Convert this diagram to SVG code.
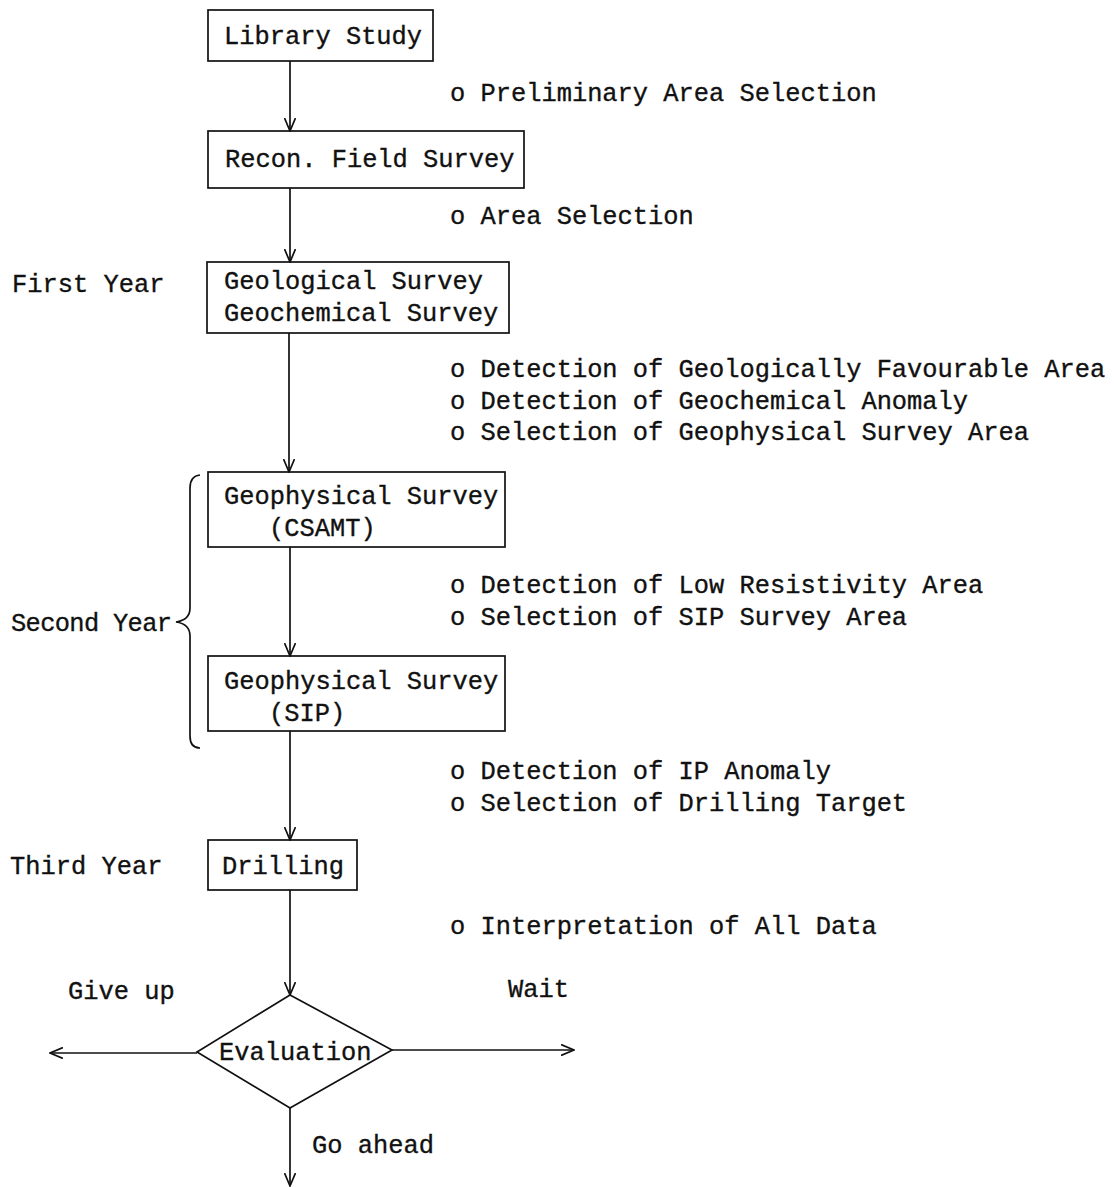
<svg xmlns="http://www.w3.org/2000/svg" width="1114" height="1187" viewBox="0 0 1114 1187">
<style>
text{font-family:"Liberation Mono","DejaVu Sans Mono",monospace;font-size:25.4px;fill:#111;stroke:#111;stroke-width:0.35;}
.box{fill:none;stroke:#111;stroke-width:1.7;}
.ln{fill:none;stroke:#111;stroke-width:1.7;}
</style>
<defs>
<marker id="ah" viewBox="0 0 14 12" refX="13" refY="6" markerWidth="14" markerHeight="12" markerUnits="userSpaceOnUse" orient="auto">
<path d="M0,0.5 L13,6 L0,11.5" fill="none" stroke="#111" stroke-width="1.7"/>
</marker>
</defs>
<rect width="1114" height="1187" fill="#fff"/>
<g id="connectors">
<line class="ln" x1="290" y1="61" x2="290" y2="131" marker-end="url(#ah)"/>
<line class="ln" x1="290" y1="188" x2="290" y2="262" marker-end="url(#ah)"/>
<line class="ln" x1="289" y1="333" x2="289" y2="472" marker-end="url(#ah)"/>
<line class="ln" x1="290" y1="547" x2="290" y2="656" marker-end="url(#ah)"/>
<line class="ln" x1="290" y1="731" x2="290" y2="840" marker-end="url(#ah)"/>
<line class="ln" x1="290" y1="890" x2="290" y2="995" marker-end="url(#ah)"/>
<line class="ln" x1="197" y1="1053" x2="50" y2="1053" marker-end="url(#ah)"/>
<line class="ln" x1="392" y1="1050" x2="574" y2="1050" marker-end="url(#ah)"/>
<line class="ln" x1="290" y1="1108" x2="290" y2="1186" marker-end="url(#ah)"/>
</g>
<g id="library-study">
<rect class="box" x="208" y="10" width="225" height="51"/>
<text x="224" y="44">Library Study</text>
</g>
<g id="recon-field-survey">
<rect class="box" x="208" y="131" width="316" height="57"/>
<text x="225" y="167">Recon. Field Survey</text>
</g>
<g id="geo-survey">
<rect class="box" x="207" y="262" width="302" height="71"/>
<text x="224" y="289">Geological Survey</text>
<text x="224" y="321">Geochemical Survey</text>
</g>
<g id="csamt">
<rect class="box" x="208" y="472" width="297" height="75"/>
<text x="224" y="504">Geophysical Survey</text>
<text x="269" y="536">(CSAMT)</text>
</g>
<g id="sip">
<rect class="box" x="208" y="656" width="297" height="75"/>
<text x="224" y="689">Geophysical Survey</text>
<text x="269" y="721">(SIP)</text>
</g>
<g id="drilling">
<rect class="box" x="208" y="840" width="149" height="50"/>
<text x="222" y="874">Drilling</text>
</g>
<g id="evaluation">
<polygon class="box" points="290,995 392,1050 290,1108 197,1052"/>
<text x="219" y="1060">Evaluation</text>
</g>
<g id="brace">
<path class="ln" d="M200,475 Q190,476 190,488 L190,608 Q190,620 176,622 Q190,624 190,636 L190,736 Q190,748 200,748"/>
</g>
<g id="labels">
<text x="450" y="101">o Preliminary Area Selection</text>
<text x="450" y="224">o Area Selection</text>
<text x="12" y="292">First Year</text>
<text x="450" y="377">o Detection of Geologically Favourable Area</text>
<text x="450" y="409">o Detection of Geochemical Anomaly</text>
<text x="450" y="440">o Selection of Geophysical Survey Area</text>
<text x="450" y="593">o Detection of Low Resistivity Area</text>
<text x="450" y="625">o Selection of SIP Survey Area</text>
<text x="11" y="631" textLength="161" lengthAdjust="spacing">Second Year</text>
<text x="450" y="779">o Detection of IP Anomaly</text>
<text x="450" y="811">o Selection of Drilling Target</text>
<text x="10" y="874">Third Year</text>
<text x="450" y="934">o Interpretation of All Data</text>
<text x="68" y="999">Give up</text>
<text x="508" y="997">Wait</text>
<text x="312" y="1153">Go ahead</text>
</g>
</svg>
